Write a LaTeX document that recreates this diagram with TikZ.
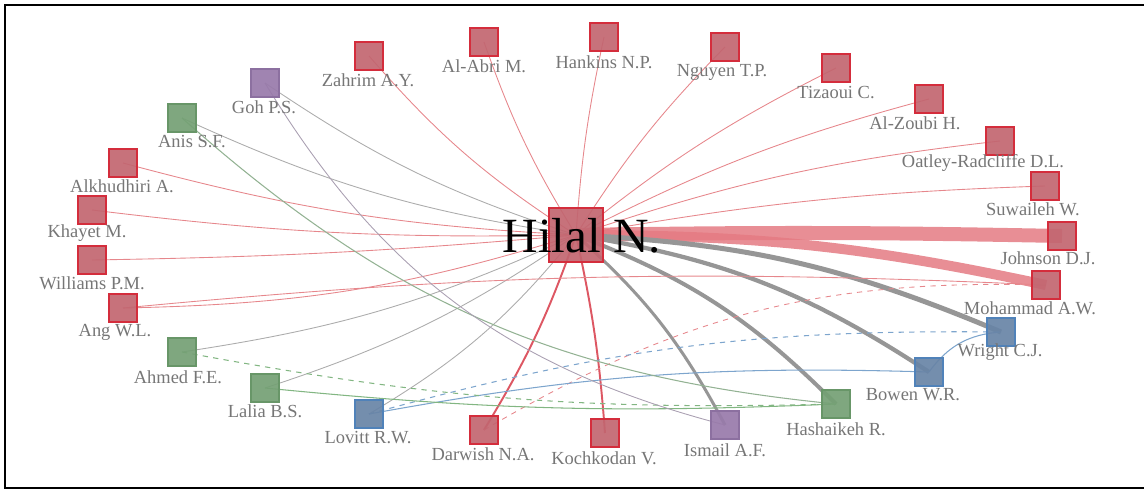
\documentclass[tikz,border=0pt]{standalone}
\usepackage{fontspec}
\setmainfont{Liberation Serif}
\usetikzlibrary{positioning}

\pgfdeclarelayer{bg}
\pgfsetlayers{bg,main}

\definecolor{sqred}{RGB}{194,102,112}
\definecolor{bdred}{RGB}{212,45,60}
\definecolor{sqgreen}{RGB}{116,160,116}
\definecolor{bdgreen}{RGB}{104,150,104}
\definecolor{sqpurple}{RGB}{152,122,170}
\definecolor{bdpurple}{RGB}{140,112,160}
\definecolor{sqblue}{RGB}{104,132,166}
\definecolor{bdblue}{RGB}{80,130,185}
\definecolor{labgray}{RGB}{118,118,118}
\definecolor{edred}{RGB}{230,135,140}
\definecolor{edredthick}{RGB}{228,122,130}
\definecolor{edgray}{RGB}{172,172,172}
\definecolor{edgraythick}{RGB}{150,150,150}
\definecolor{edblue}{RGB}{125,165,205}
\definecolor{edgreen}{RGB}{130,182,130}
\definecolor{edpurple}{RGB}{170,160,178}

\tikzset{
    sq/.style={draw, line width=0.8pt, minimum size=0.56cm, inner sep=0pt, fill opacity=0.92},
    rsq/.style={sq, fill=sqred, draw=bdred},
    gsq/.style={sq, fill=sqgreen, draw=bdgreen},
    psq/.style={sq, fill=sqpurple, draw=bdpurple},
    bsq/.style={sq, fill=sqblue, draw=bdblue},
    author/.style={text=labgray, inner sep=0pt, font=\fontsize{10.5}{12}\selectfont},
    redthin/.style={draw=edred, line width=0.5pt},
    redmid/.style={draw=bdred!80, line width=1.1pt},
    redthick/.style={draw=edredthick, opacity=0.85},
    graythin/.style={draw=edgray, line width=0.5pt},
    graythick/.style={draw=edgraythick},
    bluethin/.style={draw=edblue, line width=0.6pt},
    greenthin/.style={draw=edgreen, line width=0.6pt}
}

\begin{document}
\begin{tikzpicture}[x=0.02cm, y=-0.02cm]
    \useasboundingbox (0, 0) rectangle (1144, 490);
    \draw[line width=0.05cm] (1144, 5) -- (5, 5) -- (5, 488) -- (1144, 488);

    % centre
    \node[rsq, minimum size=1.08cm] (Hilal) at (576, 235) {};

    % squares, clockwise from the top
    \node[rsq] (Zahrim) at (369, 56) {};
    \node[rsq] (AlAbri) at (484, 42) {};
    \node[rsq] (Hankins) at (604, 37) {};
    \node[rsq] (Nguyen) at (725, 47) {};
    \node[rsq] (Tizaoui) at (836, 68) {};
    \node[rsq] (AlZoubi) at (929, 99) {};
    \node[rsq] (Oatley) at (1000, 141) {};
    \node[rsq] (Suwaileh) at (1045, 186) {};
    \node[rsq] (Johnson) at (1062, 236) {};
    \node[rsq] (Mohammad) at (1046, 285) {};
    \node[bsq] (Wright) at (1001, 332) {};
    \node[bsq] (Bowen) at (929, 372) {};
    \node[gsq] (Hashaikeh) at (836, 404) {};
    \node[psq] (Ismail) at (725, 425) {};
    \node[rsq] (Kochkodan) at (605, 433) {};
    \node[rsq] (Darwish) at (484, 430) {};
    \node[bsq] (Lovitt) at (369, 414) {};
    \node[gsq] (Lalia) at (265, 388) {};
    \node[gsq] (Ahmed) at (182, 352) {};
    \node[rsq] (Ang) at (123, 308) {};
    \node[rsq] (Williams) at (92, 260) {};
    \node[rsq] (Khayet) at (92, 210) {};
    \node[rsq] (Alkhudhiri) at (123, 163) {};
    \node[gsq] (Anis) at (182, 118) {};
    \node[psq] (Goh) at (265, 83) {};

    % names
    \node[font=\fontsize{28}{30}\selectfont, inner sep=0pt] (tHilal) at (582, 236) {Hilal N.};
    \node[author] (tZahrim) at (368, 80) {Zahrim A.Y.};
    \node[author] (tAlAbri) at (484, 66) {Al-Abri M.};
    \node[author] (tHankins) at (604, 62) {Hankins N.P.};
    \node[author] (tNguyen) at (722, 72) {Nguyen T.P.};
    \node[author] (tTizaoui) at (836, 93) {Tizaoui C.};
    \node[author] (tAlZoubi) at (915, 123) {Al-Zoubi H.};
    \node[author] (tOatley) at (983, 163) {Oatley-Radcliffe D.L.};
    \node[author] (tSuwaileh) at (1033, 209) {Suwaileh W.};
    \node[author] (tJohnson) at (1048, 258) {Johnson D.J.};
    \node[author] (tMohammad) at (1030, 308) {Mohammad A.W.};
    \node[author] (tWright) at (1000, 352) {Wright C.J.};
    \node[author] (tBowen) at (913, 395) {Bowen W.R.};
    \node[author] (tHashaikeh) at (836, 429) {Hashaikeh R.};
    \node[author] (tIsmail) at (725, 450) {Ismail A.F.};
    \node[author] (tKochkodan) at (604, 458) {Kochkodan V.};
    \node[author] (tDarwish) at (483, 454) {Darwish N.A.};
    \node[author] (tLovitt) at (368, 438) {Lovitt R.W.};
    \node[author] (tLalia) at (265, 411) {Lalia B.S.};
    \node[author] (tAhmed) at (178, 377) {Ahmed F.E.};
    \node[author] (tAng) at (115, 332) {Ang W.L.};
    \node[author] (tWilliams) at (92, 283) {Williams P.M.};
    \node[author] (tKhayet) at (87, 233) {Khayet M.};
    \node[author] (tAlkhudhiri) at (122, 186) {Alkhudhiri A.};
    \node[author] (tAnis) at (192, 142) {Anis S.F.};
    \node[author] (tGoh) at (264, 107) {Goh P.S.};

    \begin{pgfonlayer}{bg}
    % links of the centre
    \draw[redthin] (Hilal.center) to[bend left=8] (Zahrim.center);
    \draw[redthin] (Hilal.center) to[bend left=6] (AlAbri.center);
    \draw[redthin] (Hilal.center) to[bend left=4] (Hankins.center);
    \draw[redthin] (Hilal.center) to[bend left=6] (Nguyen.center);
    \draw[redthin] (Hilal.center) to[bend left=6] (Tizaoui.center);
    \draw[redthin] (Hilal.center) to[bend left=6] (AlZoubi.center);
    \draw[redthin] (Hilal.center) to[bend left=6] (Oatley.center);
    \draw[redthin] (Hilal.center) to[bend left=4] (Suwaileh.center);
    \draw[redthick, line width=0.28cm] (Hilal.center) to[bend left=1] (Johnson.center);
    \draw[redthick, line width=0.2cm] (Hilal.center) to[bend left=6] (Mohammad.center);
    \draw[graythick, line width=0.1cm] (Hilal.center) to[bend left=10] (Wright.center);
    \draw[graythick, line width=0.085cm] (Hilal.center) to[bend left=12] (Bowen.center);
    \draw[graythick, line width=0.08cm] (Hilal.center) to[bend left=12] (Hashaikeh.center);
    \draw[graythick, line width=0.06cm] (Hilal.center) to[bend left=10] (Ismail.center);
    \draw[redmid] (Hilal.center) to[bend left=4] (Kochkodan.center);
    \draw[redmid] (Hilal.center) to[bend left=6] (Darwish.center);
    \draw[graythin] (Hilal.center) to[bend left=10] (Lovitt.center);
    \draw[graythin] (Hilal.center) to[bend left=8] (Lalia.center);
    \draw[graythin] (Hilal.center) to[bend left=8] (Ahmed.center);
    \draw[redthin] (Hilal.center) to[bend left=8] (Ang.center);
    \draw[redthin] (Hilal.center) to[bend left=2] (Williams.center);
    \draw[redthin] (Hilal.center) to[bend left=4] (Khayet.center);
    \draw[redthin] (Hilal.center) to[bend left=6] (Alkhudhiri.center);
    \draw[graythin] (Hilal.center) to[bend left=8] (Anis.center);
    \draw[graythin] (Hilal.center) to[bend left=8] (Goh.center);

    % other links
    \draw[redthin] (Ang.center) to[bend left=4] (Mohammad.center);
    \draw[redthin, dashed] (Darwish.center) to[bend left=16] (Mohammad.center);
    \draw[bluethin, dashed] (Lovitt.center) to[bend left=8] (Wright.center);
    \draw[bluethin] (Lovitt.center) to[bend left=6] (Bowen.center);
    \draw[bluethin] (Bowen.center) to[bend left=25] (Wright.center);
    \draw[greenthin] (Lalia.center) to[bend right=4] (Hashaikeh.center);
    \draw[greenthin, dashed] (Ahmed.center) to[bend right=6] (Hashaikeh.center);
    \draw[greenthin, draw=edgreen!60!edgray] (Anis.center) to[bend right=18] (Hashaikeh.center);
    \draw[graythin, draw=edpurple] (Goh.center) to[bend right=22] (Ismail.center);
    \end{pgfonlayer}
\end{tikzpicture}
\end{document}
